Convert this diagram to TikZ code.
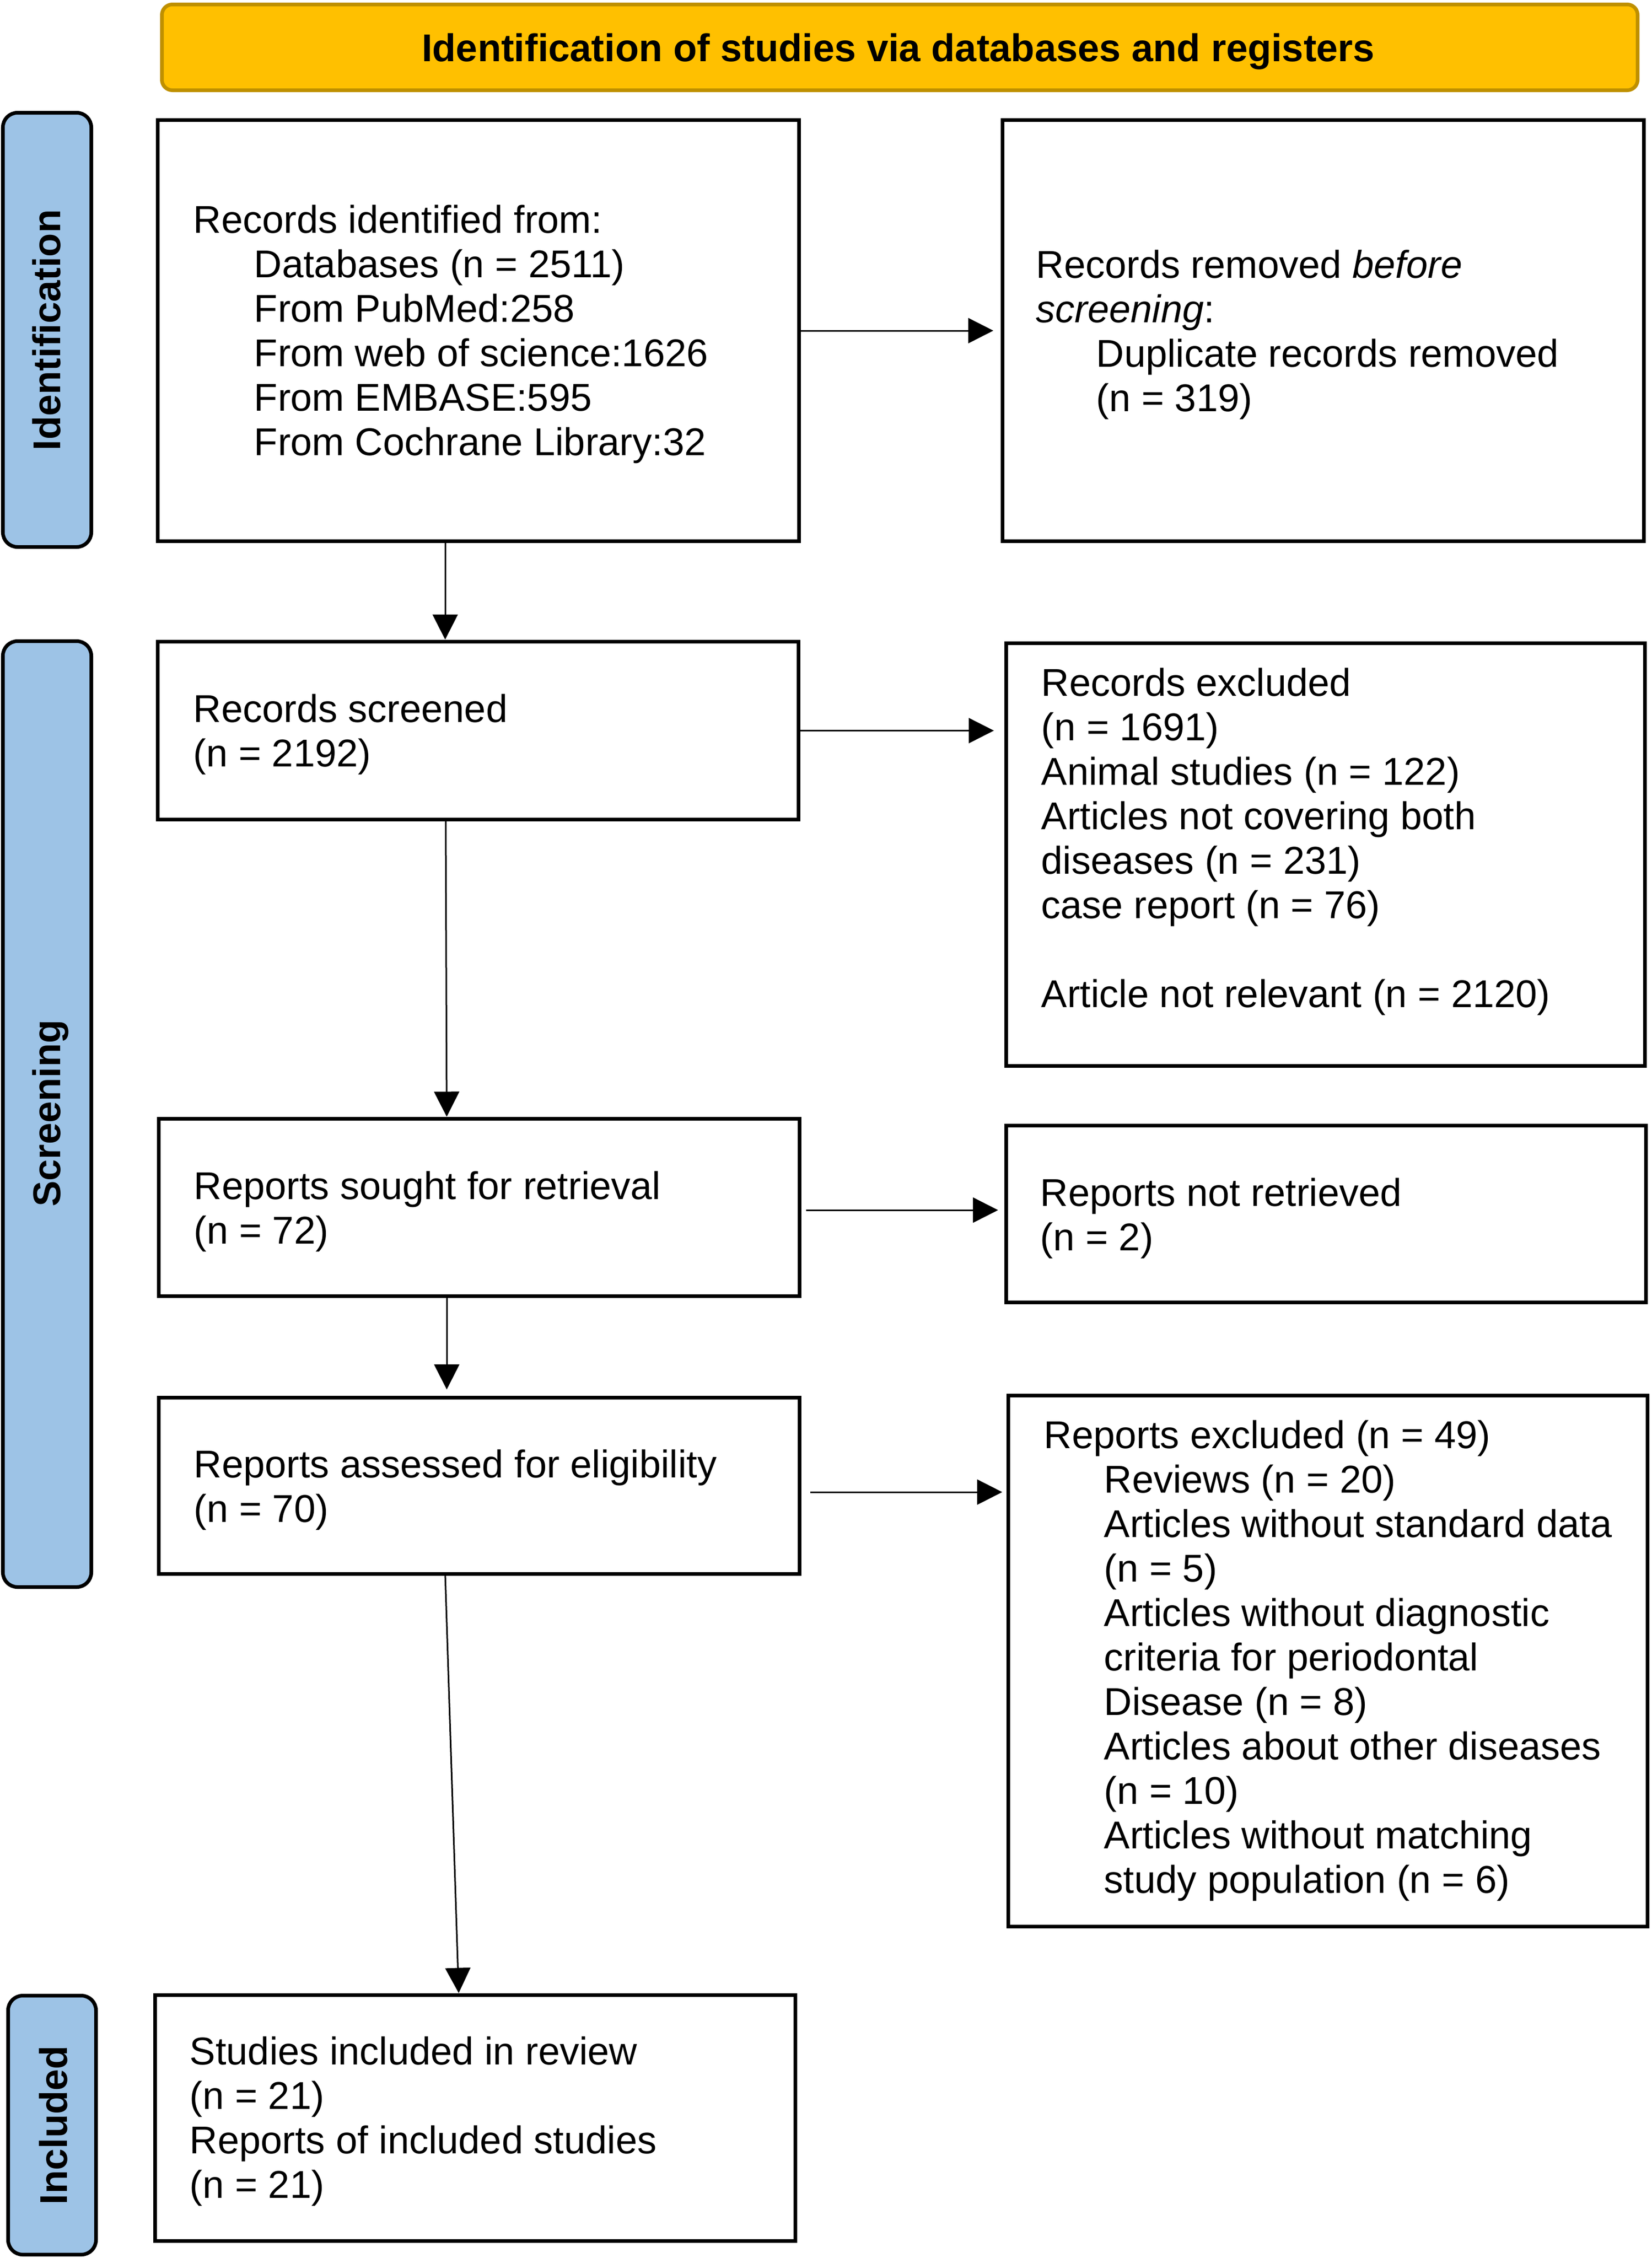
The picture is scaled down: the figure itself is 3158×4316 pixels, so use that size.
\documentclass[tikz,border=0pt]{standalone}
\usepackage{fontspec}
\setmainfont{Liberation Sans}
\usetikzlibrary{arrows.meta,calc}
\definecolor{hdrfill}{HTML}{FFC000}
\definecolor{hdrline}{HTML}{BF9000}
\definecolor{barfill}{HTML}{9DC3E6}
\begin{document}
\begin{tikzpicture}[x=0.25pt,y=-0.25pt,
  box/.style={draw=black,line width=1.75pt,fill=white,inner sep=0pt,outer sep=0pt},
  bar/.style={draw=black,line width=1.75pt,fill=barfill,rounded corners=7pt,inner sep=0pt,outer sep=0pt},
  hdr/.style={draw=hdrline,line width=1.75pt,fill=hdrfill,rounded corners=5pt,inner sep=0pt,outer sep=0pt},
  txt/.style={inner sep=0pt,anchor=base west,align=left,font=\fontsize{18.5pt}{21.25pt}\selectfont},
  bartxt/.style={inner sep=0pt,anchor=base,rotate=90,font=\fontsize{18.5pt}{21.25pt}\selectfont\bfseries},
  arr/.style={line width=0.75pt,-{Triangle[length=12pt,width=12pt]}}
]
\useasboundingbox (0,0) rectangle (3158,4316);

% header
\node[hdr,minimum width=705.25pt,minimum height=41pt] (hdr) at (1720,90.5) {};
\node[inner sep=0pt,anchor=base,font=\fontsize{18.5pt}{21.25pt}\selectfont\bfseries] (hdrt) at (1717,117) {Identification of studies via databases and registers};

% side bars
\node[bar,minimum width=42.25pt,minimum height=207.5pt] (idbar) at (90,630.5) {};
\node[bar,minimum width=42.25pt,minimum height=452pt] (scrbar) at (90,2129.5) {};
\node[bar,minimum width=42pt,minimum height=123.75pt] (incbar) at (99.5,4062) {};
\node[bartxt] (idlab) at (115,631) {Identification};
\node[bartxt] (scrlab) at (115,2128) {Screening};
\node[bartxt] (inclab) at (128,4062) {Included};

% boxes
\node[box,minimum width=306.5pt,minimum height=201.25pt] (b1) at (914.5,632) {};
\node[box,minimum width=306.5pt,minimum height=201.25pt] (b2) at (2529.5,632) {};
\node[box,minimum width=306.25pt,minimum height=85pt] (b3) at (914,1396.5) {};
\node[box,minimum width=305.25pt,minimum height=202pt] (b4) at (2534,1633.5) {};
\node[box,minimum width=306.25pt,minimum height=84.75pt] (b5) at (916,2308) {};
\node[box,minimum width=305.75pt,minimum height=84.5pt] (b6) at (2535,2320.5) {};
\node[box,minimum width=306.25pt,minimum height=84.25pt] (b7) at (916,2840) {};
\node[box,minimum width=305.5pt,minimum height=253.75pt] (b8) at (2538.5,3175) {};
\node[box,minimum width=306pt,minimum height=117.5pt] (b9) at (908.5,4048.5) {};

% texts (anchored at the baseline of their last line)
\node[txt] (t1) at (369,870) {Records identified from:\\
\hspace*{29pt}Databases (n = 2511)\\
\hspace*{29pt}From PubMed:258\\
\hspace*{29pt}From web of science:1626\\
\hspace*{29pt}From EMBASE:595\\
\hspace*{29pt}From Cochrane Library:32};
\node[txt] (t2) at (1980,786) {Records removed \textit{before}\\
\textit{screening}:\\
\hspace*{28.75pt}Duplicate records removed\\
\hspace*{28.75pt}(n = 319)};
\node[txt] (t3) at (369,1465) {Records screened\\(n = 2192)};
\node[txt] (t4) at (1990,1925) {Records excluded\\
(n = 1691)\\
Animal studies (n = 122)\\
Articles not covering both\\
diseases (n = 231)\\
case report (n = 76)\\[21.25pt]
Article not relevant (n = 2120)};
\node[txt] (t5) at (370,2377) {Reports sought for retrieval\\(n = 72)};
\node[txt] (t6) at (1988,2390) {Reports not retrieved\\(n = 2)};
\node[txt] (t7) at (370,2909) {Reports assessed for eligibility\\(n = 70)};
\node[txt] (t8) at (1995,3618) {Reports excluded (n = 49)\\
\hspace*{28.75pt}Reviews (n = 20)\\
\hspace*{28.75pt}Articles without standard data\\
\hspace*{28.75pt}(n = 5)\\
\hspace*{28.75pt}Articles without diagnostic\\
\hspace*{28.75pt}criteria for periodontal\\
\hspace*{28.75pt}Disease (n = 8)\\
\hspace*{28.75pt}Articles about other diseases\\
\hspace*{28.75pt}(n = 10)\\
\hspace*{28.75pt}Articles without matching\\
\hspace*{28.75pt}study population (n = 6)};
\node[txt] (t9) at (362,4201) {Studies included in review\\
(n = 21)\\
Reports of included studies\\
(n = 21)};

% connectors
\draw[arr,shorten >=4.4pt] (b1.east) -- (b1.east -| b2.west);
\draw[arr,shorten >=5.9pt] (b3.east) -- (b3.east -| b4.west);
\coordinate (a5r) at ($(b5.east)+(0,5)$);
\draw[arr,shorten <=3.1pt,shorten >=3.9pt] (a5r) -- (a5r -| b6.west);
\coordinate (a7r) at ($(b7.east)+(0,12)$);
\draw[arr,shorten <=5.1pt,shorten >=2.9pt] (a7r) -- (a7r -| b8.west);

\coordinate (a1s) at ($(b1.south)+(-63.5,0)$);
\draw[arr,shorten >=1pt] (a1s) -- (a1s |- b3.north);
\coordinate (a3s) at ($(b3.south)+(-62,0)$);
\coordinate (a3e) at ($(b5.north)+(-62,0)$);
\draw[arr,shorten >=1pt] (a3s) -- (a3e);
\coordinate (a5s) at ($(b5.south)+(-62,0)$);
\draw[arr,shorten >=3.9pt] (a5s) -- (a5s |- b7.north);
\coordinate (a9s) at ($(b7.south)+(-65,0)$);
\coordinate (a9e) at ($(b9.north)+(-31.5,0)$);
\draw[arr,shorten >=1pt] (a9s) -- (a9e);
\end{tikzpicture}
\end{document}
